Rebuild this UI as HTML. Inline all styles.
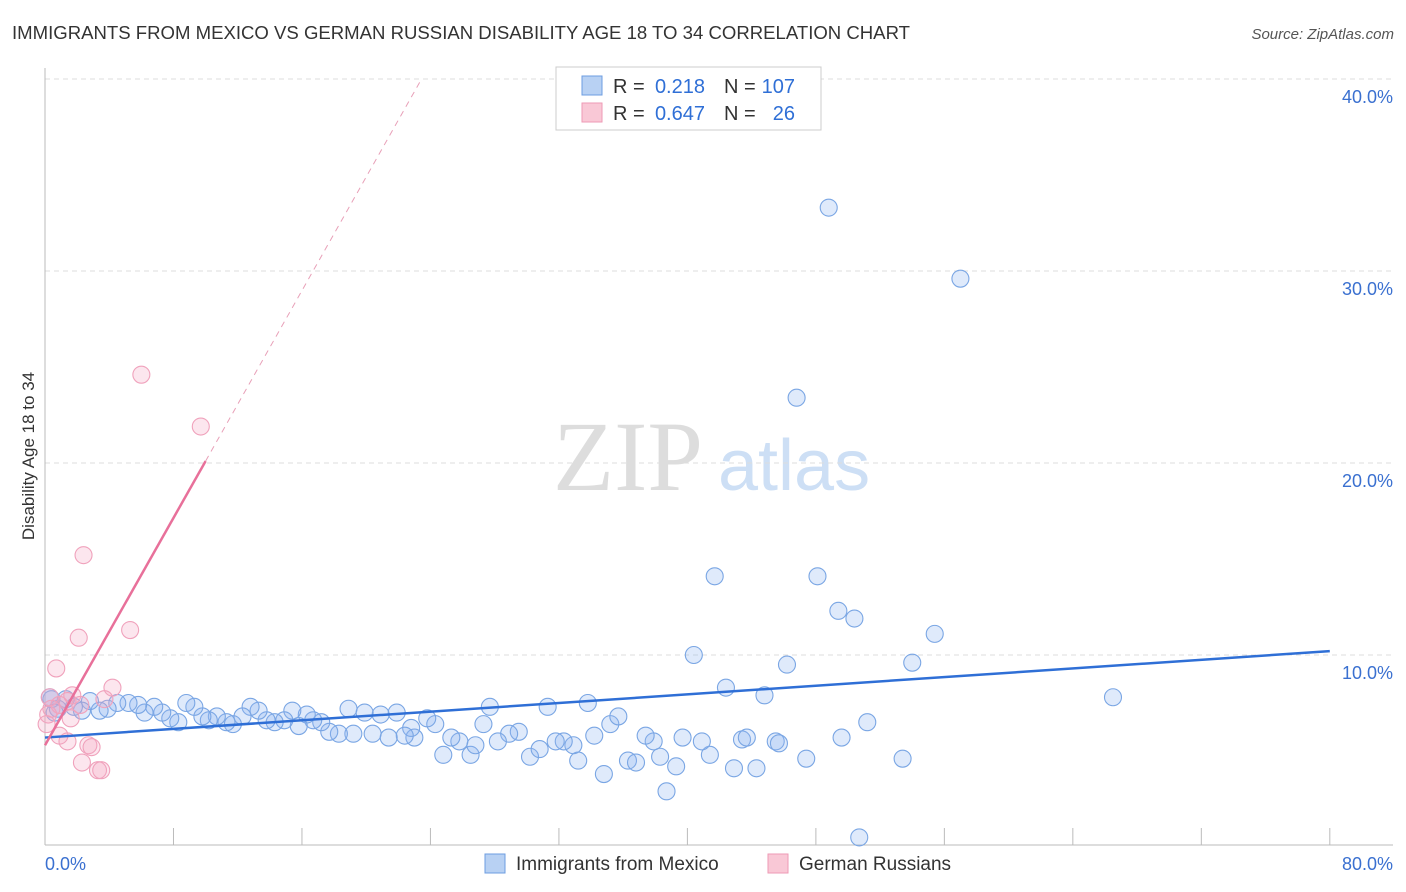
<!DOCTYPE html>
<html><head><meta charset="utf-8"><style>
body{margin:0;background:#fff;font-family:"Liberation Sans",sans-serif}
svg{display:block}
</style></head><body>
<svg width="1406" height="892" id="c">
<text x="12" y="39" font-size="18" fill="#333" textLength="898" lengthAdjust="spacingAndGlyphs">IMMIGRANTS FROM MEXICO VS GERMAN RUSSIAN DISABILITY AGE 18 TO 34 CORRELATION CHART</text>
<text x="1394" y="39" font-size="15" fill="#555" font-style="italic" text-anchor="end">Source: ZipAtlas.com</text>
<text x="34" y="456" font-size="17" fill="#333" transform="rotate(-90 34 456)" text-anchor="middle">Disability Age 18 to 34</text>
<g><text x="553" y="490" font-family="Liberation Serif,serif" font-size="100" fill="#ddd">ZIP</text><text x="718" y="490" font-size="72" fill="#cddff5">atlas</text></g>
<g id="grid"></g><g id="marks"></g>
<g font-size="20">
<rect x="556" y="67" width="265" height="63" fill="#fff" stroke="#ccc"/>
<rect x="582" y="76" width="20" height="19" fill="#b8d1f3" stroke="#6d9de0"/>
<rect x="582" y="103" width="20" height="19" fill="#f9c8d6" stroke="#ee9ab5"/>
<text x="613" y="93" fill="#333">R =</text><text x="705" y="93" fill="#2f6fd6" text-anchor="end">0.218</text>
<text x="724" y="93" fill="#333">N =</text><text x="795" y="93" fill="#2f6fd6" text-anchor="end">107</text>
<text x="613" y="120" fill="#333">R =</text><text x="705" y="120" fill="#2f6fd6" text-anchor="end">0.647</text>
<text x="724" y="120" fill="#333">N =</text><text x="795" y="120" fill="#2f6fd6" text-anchor="end">26</text>
</g>
<g>
<rect x="485" y="854" width="20" height="19" fill="#b8d1f3" stroke="#6d9de0"/>
<text x="516" y="870" font-size="19" fill="#333">Immigrants from Mexico</text>
<rect x="768" y="854" width="20" height="19" fill="#f9c8d6" stroke="#ee9ab5"/>
<text x="799" y="870" font-size="19" fill="#333">German Russians</text>
</g>
</svg>
<script>
const blueX=[48.8,57.0,46.8,41.7,48.1,49.4,50.4,55.4,40.4,54.0,46.2,42.4,44.8,66.5,51.2,49.6,47.4,53.4,50.7,38.7,34.8,33.2,30.2,26.5,24.8,36.3,36.8,39.3,42.9,44.3,41.4,38.3,39.7,40.9,43.4,43.7,45.5,45.7,37.9,37.4,34.2,32.9,32.3,31.8,30.8,29.5,28.9,28.2,26.8,25.8,25.3,27.3,35.2,35.7,33.8,31.3,27.7,24.3,23.8,23.0,22.8,22.4,21.9,21.4,20.9,20.4,19.9,18.9,19.2,18.3,17.7,17.2,16.7,16.3,15.8,15.4,14.9,14.3,13.8,13.3,12.8,12.3,11.7,11.3,10.7,10.2,9.8,9.3,8.8,8.3,7.8,7.3,6.8,6.2,5.8,5.2,4.5,3.9,3.4,2.8,2.3,1.8,1.3,0.8,0.4,0.3,0.6];
const blueY=[33.3,29.6,23.4,14.1,14.1,12.3,11.9,11.1,10.0,9.6,9.5,8.3,7.9,7.8,6.5,5.7,4.6,4.6,0.5,2.9,3.8,4.5,4.7,4.8,4.8,4.5,4.4,4.2,4.1,4.1,4.8,4.7,5.7,5.5,5.6,5.7,5.5,5.4,5.5,5.8,5.8,5.3,5.5,5.5,5.1,6.0,5.9,5.5,5.3,5.5,5.7,6.4,6.4,6.8,7.5,7.3,7.3,6.4,6.7,5.7,6.2,5.8,7.0,5.7,6.9,5.9,7.0,7.2,5.9,5.9,6.0,6.5,6.6,6.9,6.3,7.1,6.6,6.5,6.6,7.1,7.3,6.8,6.4,6.5,6.8,6.6,6.8,7.3,7.5,6.5,6.7,7.0,7.3,7.0,7.4,7.5,7.5,7.2,7.1,7.6,7.1,7.3,7.7,7.2,7.7,7.8,7.0];
const pinkX=[6.0,9.7,2.4,2.1,5.3,0.7,4.2,0.3,1.7,3.7,0.9,1.4,0.2,1.6,0.9,1.4,2.7,2.9,2.3,3.3,3.5,0.4,2.2,0.1];
const pinkY=[24.6,21.9,15.2,10.9,11.3,9.3,8.3,7.8,7.9,7.7,7.4,7.6,6.9,6.7,5.8,5.5,5.3,5.2,4.4,4.0,4.0,7.2,7.4,6.4];
const blueTrend=[5.7,10.2];   // y at x=0, x=80
const pinkTrend=[5.3,1.48];   // intercept, slope
const yTicks=[10,20,30,40];
const xTickLabels=["0.0%","80.0%"];
const NS="http://www.w3.org/2000/svg";
const sx=v=>45+v*16.06, sy=v=>847-v*19.2;
function mk(t,a,p){const e=document.createElementNS(NS,t);for(const k in a)e.setAttribute(k,a[k]);p.appendChild(e);return e;}
const g=document.getElementById('grid'),m=document.getElementById('marks');
yTicks.forEach(t=>{
 const l=mk('line',{x1:45,x2:1393,y1:sy(t),y2:sy(t),stroke:'#ddd','stroke-dasharray':'5,4'},g);
 
 
 const tx=mk('text',{x:1393,y:sy(t)+24,'font-size':18,fill:'#3a70d0','text-anchor':'end'},g);tx.textContent=t.toFixed(1)+'%';
 
 
});
mk('line',{x1:45,x2:45,y1:68,y2:845,stroke:'#bbb'},g);
mk('line',{x1:45,x2:1393,y1:845,y2:845,stroke:'#bbb'},g);
for(let i=0;i<=10;i++){mk('line',{x1:sx(i*8),x2:sx(i*8),y1:828,y2:845,stroke:'#bbb'},g);}
const a=mk('text',{x:45,y:870,'font-size':18,fill:'#3a70d0'},g);a.textContent=xTickLabels[0];


const b=mk('text',{x:1393,y:870,'font-size':18,fill:'#3a70d0','text-anchor':'end'},g);b.textContent=xTickLabels[1];


blueX.forEach((x,i)=>{const c=mk('circle',{cx:sx(x),cy:sy(blueY[i]),r:8.5,fill:'rgba(140,180,240,0.28)',stroke:'#7aa6e4','stroke-width':1.1},m);
 
 });
pinkX.forEach((x,i)=>{const c=mk('circle',{cx:sx(x),cy:sy(pinkY[i]),r:8.5,fill:'rgba(245,165,195,0.28)',stroke:'#f0a2bc','stroke-width':1.1},m);
 
 });
const bl=mk('line',{x1:sx(0),y1:sy(blueTrend[0]),x2:sx(80),y2:sy(blueTrend[1]),stroke:'#2f6fd6','stroke-width':2.5},m);


const pf=x=>pinkTrend[0]+pinkTrend[1]*x;
const xEnd=(40-pinkTrend[0])/pinkTrend[1];
const pd=mk('line',{x1:sx(10),y1:sy(pf(10)),x2:sx(xEnd),y2:sy(40),stroke:'#e8a0b8','stroke-width':1,'stroke-dasharray':'6,5'},m);


const pl=mk('line',{x1:sx(0),y1:sy(pf(0)),x2:sx(10),y2:sy(pf(10)),stroke:'#e8709a','stroke-width':2.5},m);


</script>
</body></html>
